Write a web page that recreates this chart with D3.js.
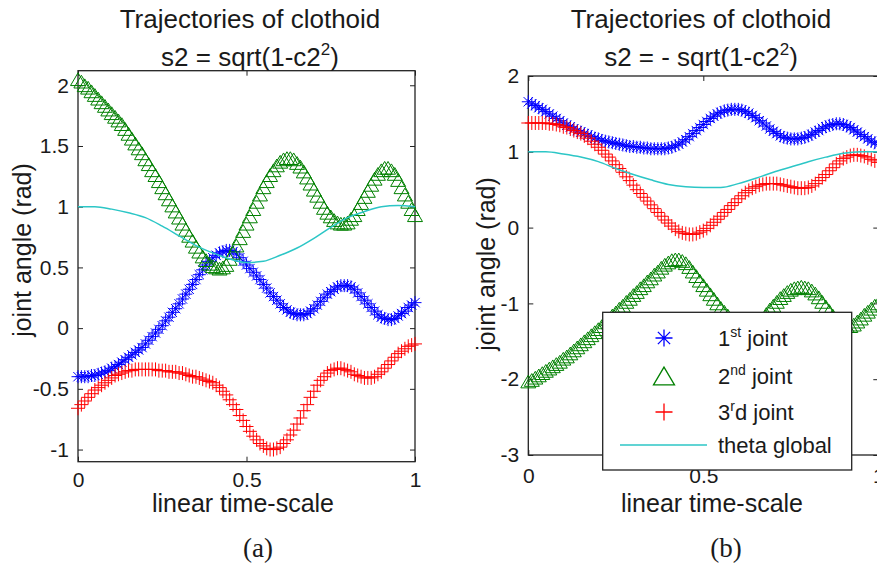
<!DOCTYPE html>
<html lang="en">
<head>
<meta charset="UTF-8" />
<title>Trajectories of clothoid</title>
<style>
  body { margin: 0; background: #fff; }
  svg { display: block; font-family: "Liberation Sans", Arial, sans-serif; }
  .tick text { font-size: 21px; fill: #1a1a1a; font-family: "Liberation Sans", Arial, sans-serif; }
  .tick line { stroke: #222; }
  .label { font-size: 25px; fill: #1a1a1a; }
  .title { font-size: 26px; fill: #1a1a1a; }
  .caption { font-family: "Liberation Serif", "Times New Roman", serif; font-size: 27px; fill: #1a1a1a; }
  .legend-text { font-size: 22px; fill: #1a1a1a; }
</style>
</head>
<body>
<svg width="877" height="570"></svg>
<script src="https://d3js.org/d3.v7.min.js"></script>
<script>
// sample times (linear time-scale)
const timeSteps = [0,0.01,0.02,0.03,0.04,0.05,0.06,0.07,0.08,0.09,0.1,0.11,0.12,0.13,0.14,0.15,0.16,0.17,0.18,0.19,
  0.2,0.21,0.22,0.23,0.24,0.25,0.26,0.27,0.28,0.29,0.3,0.31,0.32,0.33,0.34,0.35,0.36,0.37,0.38,0.39,
  0.4,0.41,0.42,0.43,0.44,0.45,0.46,0.47,0.48,0.49,0.5,0.51,0.52,0.53,0.54,0.55,0.56,0.57,0.58,0.59,
  0.6,0.61,0.62,0.63,0.64,0.65,0.66,0.67,0.68,0.69,0.7,0.71,0.72,0.73,0.74,0.75,0.76,0.77,0.78,0.79,
  0.8,0.81,0.82,0.83,0.84,0.85,0.86,0.87,0.88,0.89,0.9,0.91,0.92,0.93,0.94,0.95,0.96,0.97,0.98,0.99,1];
const thetaSteps = [0,0.05,0.1,0.15,0.2,0.25,0.3,0.35,0.4,0.45,0.5,0.55,0.6,0.65,0.7,0.75,0.8,0.85,0.9,0.95,1];

// (a) s2 = sqrt(1-c2^2)
const joint1A = [-0.40,-0.40,-0.40,-0.40,-0.39,-0.39,-0.38,-0.37,-0.36,-0.35,-0.33,-0.32,-0.30,-0.28,-0.26,-0.24,-0.22,-0.20,-0.18,-0.16,
  -0.13,-0.10,-0.07,-0.04,-0.01,0.02,0.06,0.09,0.13,0.16,0.20,0.24,0.28,0.32,0.36,0.40,0.44,0.48,0.52,0.55,
  0.58,0.60,0.62,0.63,0.64,0.64,0.63,0.61,0.58,0.55,0.52,0.49,0.46,0.43,0.40,0.36,0.33,0.29,0.26,0.23,
  0.20,0.17,0.15,0.13,0.12,0.11,0.11,0.11,0.12,0.14,0.16,0.19,0.22,0.25,0.28,0.30,0.32,0.34,0.35,0.35,
  0.35,0.34,0.32,0.29,0.26,0.23,0.20,0.17,0.14,0.11,0.09,0.08,0.07,0.07,0.08,0.10,0.12,0.14,0.17,0.19,0.21];
const joint2A = [2.05,2.03,2.00,1.98,1.95,1.92,1.89,1.86,1.83,1.80,1.77,1.74,1.71,1.68,1.64,1.60,1.56,1.52,1.48,1.44,
  1.39,1.35,1.30,1.26,1.21,1.16,1.11,1.06,1.01,0.96,0.91,0.86,0.81,0.76,0.72,0.67,0.63,0.59,0.56,0.53,
  0.51,0.50,0.49,0.50,0.52,0.57,0.62,0.68,0.74,0.80,0.86,0.92,0.98,1.04,1.10,1.16,1.21,1.26,1.30,1.34,
  1.37,1.39,1.40,1.40,1.39,1.36,1.33,1.29,1.24,1.19,1.14,1.09,1.04,0.99,0.95,0.92,0.89,0.87,0.86,0.86,
  0.87,0.90,0.93,0.98,1.03,1.08,1.13,1.18,1.23,1.27,1.30,1.32,1.32,1.30,1.27,1.22,1.16,1.10,1.04,0.98,0.93];
const joint3A = [-0.66,-0.63,-0.60,-0.57,-0.54,-0.51,-0.49,-0.47,-0.45,-0.43,-0.41,-0.39,-0.38,-0.37,-0.36,-0.35,-0.35,-0.34,-0.34,-0.34,
  -0.34,-0.34,-0.34,-0.34,-0.35,-0.35,-0.35,-0.36,-0.36,-0.36,-0.37,-0.37,-0.38,-0.39,-0.40,-0.40,-0.41,-0.42,-0.43,-0.44,
  -0.45,-0.47,-0.49,-0.52,-0.55,-0.59,-0.63,-0.67,-0.72,-0.76,-0.81,-0.85,-0.89,-0.92,-0.95,-0.97,-0.99,-1.00,-1.00,-0.99,
  -0.98,-0.95,-0.92,-0.88,-0.84,-0.79,-0.74,-0.68,-0.63,-0.57,-0.52,-0.47,-0.43,-0.40,-0.37,-0.35,-0.34,-0.33,-0.33,-0.34,
  -0.35,-0.36,-0.38,-0.39,-0.40,-0.41,-0.41,-0.41,-0.40,-0.38,-0.36,-0.33,-0.30,-0.27,-0.24,-0.21,-0.19,-0.17,-0.15,-0.14,-0.13];
const thetaA = [1.00,1.00,0.98,0.95,0.91,0.84,0.76,0.68,0.62,0.57,0.54,0.55,0.60,0.66,0.74,0.83,0.91,0.96,1.00,1.01,1.00];

// (b) s2 = - sqrt(1-c2^2)
const joint1B = [1.66,1.63,1.61,1.58,1.56,1.53,1.50,1.47,1.44,1.41,1.38,1.35,1.33,1.30,1.28,1.26,1.24,1.22,1.20,1.18,
  1.17,1.15,1.14,1.13,1.12,1.11,1.10,1.09,1.08,1.07,1.07,1.06,1.06,1.05,1.05,1.04,1.04,1.04,1.04,1.04,
  1.05,1.06,1.08,1.10,1.13,1.16,1.20,1.24,1.28,1.32,1.36,1.40,1.44,1.47,1.50,1.52,1.54,1.55,1.56,1.56,
  1.56,1.55,1.53,1.51,1.48,1.45,1.41,1.38,1.34,1.30,1.27,1.24,1.21,1.19,1.18,1.17,1.17,1.17,1.18,1.19,
  1.21,1.23,1.26,1.28,1.31,1.33,1.35,1.36,1.37,1.37,1.36,1.34,1.32,1.29,1.26,1.23,1.20,1.17,1.14,1.12,1.10];
const joint2B = [-2.03,-2.01,-1.98,-1.95,-1.92,-1.89,-1.86,-1.83,-1.80,-1.77,-1.73,-1.70,-1.66,-1.62,-1.58,-1.54,-1.50,-1.46,-1.42,-1.38,
  -1.34,-1.30,-1.25,-1.21,-1.16,-1.12,-1.07,-1.03,-0.98,-0.94,-0.89,-0.85,-0.80,-0.76,-0.71,-0.67,-0.62,-0.58,-0.53,-0.49,
  -0.46,-0.43,-0.42,-0.42,-0.44,-0.47,-0.52,-0.58,-0.64,-0.70,-0.76,-0.82,-0.88,-0.94,-1.00,-1.06,-1.11,-1.16,-1.21,-1.25,
  -1.29,-1.32,-1.33,-1.33,-1.32,-1.29,-1.25,-1.20,-1.14,-1.08,-1.03,-0.98,-0.93,-0.89,-0.85,-0.82,-0.80,-0.79,-0.78,-0.79,
  -0.80,-0.83,-0.87,-0.92,-0.98,-1.04,-1.10,-1.16,-1.21,-1.26,-1.29,-1.30,-1.30,-1.28,-1.24,-1.20,-1.15,-1.11,-1.07,-1.03,-1.00];
const joint3B = [1.38,1.38,1.38,1.38,1.38,1.38,1.37,1.37,1.36,1.35,1.33,1.32,1.30,1.28,1.26,1.24,1.21,1.18,1.14,1.10,
  1.06,1.02,0.97,0.93,0.88,0.83,0.78,0.73,0.67,0.62,0.56,0.50,0.45,0.40,0.35,0.30,0.25,0.20,0.15,0.10,
  0.06,0.02,-0.02,-0.05,-0.07,-0.08,-0.09,-0.09,-0.08,-0.06,-0.04,-0.01,0.03,0.07,0.11,0.15,0.20,0.24,0.29,0.33,
  0.38,0.42,0.46,0.49,0.52,0.54,0.56,0.57,0.58,0.58,0.58,0.58,0.57,0.56,0.55,0.54,0.53,0.52,0.52,0.52,
  0.53,0.55,0.58,0.62,0.66,0.70,0.75,0.79,0.84,0.88,0.91,0.93,0.95,0.96,0.96,0.95,0.94,0.92,0.90,0.88,0.86];
const thetaB = [1.00,1.00,0.97,0.93,0.87,0.78,0.70,0.63,0.57,0.54,0.53,0.53,0.58,0.65,0.73,0.80,0.87,0.93,0.98,1.00,1.00];

const xTicks = [0, 0.5, 1];
const yTicksA = [-1, -0.5, 0, 0.5, 1, 1.5, 2];
const yTicksB = [-3, -2, -1, 0, 1, 2];
const legendLabels = [["1", "st", " joint"], ["2", "nd", " joint"], ["3", "r", "d joint"], ["theta global", "", ""]];

const colors = { j1: "#0000ff", j2: "#008000", j3: "#ff0000", theta: "#2cc6c6" };

const svg = d3.select("svg");

// marker shapes (MATLAB style, outline only)
function markerPath(kind, s) {
  const r = s / 2;
  if (kind === "star") {
    const a = r * 0.72;
    return `M${-r},0H${r}M0,${-r}V${r}M${-a},${-a}L${a},${a}M${-a},${a}L${a},${-a}`;
  }
  if (kind === "tri") {
    const h = s * 0.85;
    return `M0,${-h / 2}L${r},${h / 2}L${-r},${h / 2}Z`;
  }
  return `M${-r},0H${r}M0,${-r}V${r}`;
}

const panels = [
  { left: 78, right: 415, top: 70.7, bottom: 461.7, yDomain: [-1.1, 2.12], yTicks: yTicksA,
    j1: joint1A, j2: joint2A, j3: joint3A, theta: thetaA,
    titleX: 250, sub: "s2 = sqrt(1-c2", yLabel: [31, 250], xLabelX: 243, caption: "(a)", captionX: 258, xPad: 10 },
  { left: 528.3, right: 878.3, top: 76, bottom: 455, yDomain: [-3, 2], yTicks: yTicksB,
    j1: joint1B, j2: joint2B, j3: joint3B, theta: thetaB,
    titleX: 701, sub: "s2 = - sqrt(1-c2", yLabel: [495, 264], xLabelX: 712, caption: "(b)", captionX: 726, xPad: 13 }
];

panels.forEach(p => {
  const x = d3.scaleLinear().domain([0, 1]).range([p.left, p.right]);
  const y = d3.scaleLinear().domain(p.yDomain).range([p.bottom, p.top]);
  const g = svg.append("g");

  // box
  g.append("rect")
    .attr("x", p.left).attr("y", p.top)
    .attr("width", p.right - p.left).attr("height", p.bottom - p.top)
    .attr("fill", "none").attr("stroke", "#222").attr("stroke-width", 1.3);

  const fmt = d => String(d);
  g.append("g").attr("transform", `translate(0,${p.bottom})`)
    .call(d3.axisBottom(x).tickValues(xTicks).tickFormat(fmt).tickSizeInner(-5).tickSizeOuter(0).tickPadding(p.xPad))
    .call(a => a.select(".domain").remove());
  g.append("g").attr("transform", `translate(0,${p.top})`)
    .call(d3.axisTop(x).tickValues(xTicks).tickFormat("").tickSizeInner(-5).tickSizeOuter(0))
    .call(a => a.select(".domain").remove());
  g.append("g").attr("transform", `translate(${p.left},0)`)
    .call(d3.axisLeft(y).tickValues(p.yTicks).tickFormat(fmt).tickSizeInner(-5).tickSizeOuter(0).tickPadding(9))
    .call(a => a.select(".domain").remove());
  g.append("g").attr("transform", `translate(${p.right},0)`)
    .call(d3.axisRight(y).tickValues(p.yTicks).tickFormat("").tickSizeInner(-5).tickSizeOuter(0))
    .call(a => a.select(".domain").remove());
  g.selectAll(".tick text").attr("font-size", null).attr("font-family", null);

  // series markers
  const series = [
    { vals: p.j1, kind: "star", color: colors.j1, size: 13 },
    { vals: p.j2, kind: "tri", color: colors.j2, size: 15 },
    { vals: p.j3, kind: "plus", color: colors.j3, size: 14 }
  ];
  series.forEach(s => {
    g.append("g").selectAll("path")
      .data(timeSteps.map((t, i) => [t, s.vals[i]]))
      .join("path")
      .attr("transform", d => `translate(${x(d[0])},${y(d[1])})`)
      .attr("d", markerPath(s.kind, s.size))
      .attr("fill", "none")
      .attr("stroke", s.color)
      .attr("stroke-width", 1);
  });

  // theta global
  g.append("path")
    .datum(thetaSteps.map((t, i) => [t, p.theta[i]]))
    .attr("fill", "none")
    .attr("stroke", colors.theta)
    .attr("stroke-width", 1.5)
    .attr("d", d3.line().x(d => x(d[0])).y(d => y(d[1])).curve(d3.curveMonotoneX));

  // titles
  g.append("text").attr("class", "title").attr("x", p.titleX).attr("y", 28)
    .attr("text-anchor", "middle").text("Trajectories of clothoid");
  const t2 = g.append("text").attr("class", "title").attr("x", p.titleX).attr("y", 66)
    .attr("text-anchor", "middle");
  t2.append("tspan").text(p.sub);
  t2.append("tspan").attr("dy", -11).attr("font-size", 17).text("2");
  t2.append("tspan").attr("dy", 11).text(")");

  // axis labels
  g.append("text").attr("class", "label")
    .attr("transform", `translate(${p.yLabel[0]},${p.yLabel[1]}) rotate(-90)`)
    .attr("text-anchor", "middle").text("joint angle (rad)");
  g.append("text").attr("class", "label").attr("x", p.xLabelX).attr("y", 512)
    .attr("text-anchor", "middle").text("linear time-scale");
  g.append("text").attr("class", "caption").attr("x", p.captionX).attr("y", 557)
    .attr("text-anchor", "middle").text(p.caption);
});

// legend (panel b)
const lg = svg.append("g");
lg.append("rect").attr("x", 602.7).attr("y", 312.3).attr("width", 249).attr("height", 157.7)
  .attr("fill", "#fff").attr("stroke", "#222").attr("stroke-width", 1.3);
const rowBase = [346, 384, 420, 453];
const legendKinds = [
  { kind: "star", color: colors.j1, size: 17 },
  { kind: "tri", color: colors.j2, size: 21 },
  { kind: "plus", color: colors.j3, size: 17 },
  { kind: "line", color: colors.theta }
];
legendLabels.forEach((lab, i) => {
  const k = legendKinds[i];
  const cy = rowBase[i] - 8;
  if (k.kind === "line") {
    lg.append("line").attr("x1", 620).attr("x2", 707).attr("y1", cy).attr("y2", cy)
      .attr("stroke", k.color).attr("stroke-width", 1.5);
  } else {
    lg.append("path").attr("transform", `translate(664,${cy})`)
      .attr("d", markerPath(k.kind, k.size))
      .attr("fill", "none").attr("stroke", k.color).attr("stroke-width", 1.3);
  }
  const txt = lg.append("text").attr("class", "legend-text").attr("x", 718).attr("y", rowBase[i]);
  txt.append("tspan").text(lab[0]);
  if (lab[1]) {
    txt.append("tspan").attr("dy", -9).attr("font-size", 14).text(lab[1]);
    txt.append("tspan").attr("dy", 9).text(lab[2]);
  }
});
</script>
</body>
</html>
